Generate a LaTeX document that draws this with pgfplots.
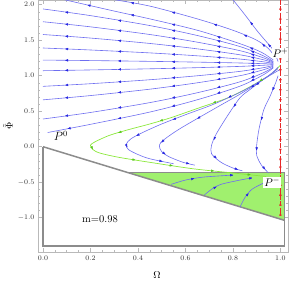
\documentclass[border=0pt]{standalone}
\usepackage{pgfplots}
\pgfplotsset{compat=1.18}
\usetikzlibrary{arrows.meta}
\definecolor{sblue}{RGB}{110,110,240}
\definecolor{ablue}{RGB}{40,40,225}
\definecolor{sgreen}{RGB}{140,232,60}
\definecolor{agreen}{RGB}{90,200,30}
\definecolor{gfill}{RGB}{160,240,110}
\definecolor{sred}{RGB}{232,40,40}
\definecolor{framec}{RGB}{185,185,185}
\definecolor{wall}{RGB}{140,140,140}
\tikzset{
 flow/.style={sblue, line width=0.6pt, smooth},
 gflow/.style={sgreen, line width=0.7pt, smooth},
}
\pgfplotsset{
 arr/.style={#1, -{Latex[length=3.2pt,width=2.6pt]}, quiver={u=\thisrow{u}, v=\thisrow{v}, scale arrows=0.04}},
}
\begin{document}
\begin{tikzpicture}
\begin{axis}[
 scale only axis, width=250pt, height=252pt,
 xmin=-0.021, xmax=1.032, ymin=-1.483, ymax=2.066,
 axis line style={framec, line width=0.8pt},
 tick style={framec, line width=0.5pt},
 major tick length=4pt, minor tick length=2pt,
 tick pos=both, xticklabel pos=lower, yticklabel pos=left,
 xtick={0,0.2,0.4,0.6,0.8,1.0}, minor x tick num=3,
 ytick={-1,-0.5,0,0.5,1,1.5,2}, minor y tick num=4,
 tick label style={font=\fontsize{7}{8}\selectfont, text=black!80},
 xticklabel style={/pgf/number format/.cd, fixed, fixed zerofill, precision=1},
 yticklabel style={/pgf/number format/.cd, fixed, fixed zerofill, precision=1},
 xlabel={$\Omega$}, ylabel={$\tilde{\Phi}$},
 label style={font=\fontsize{10}{12}\selectfont},
 xlabel style={at={(axis description cs:0.476,0)}, anchor=center, yshift=-23pt},
 ylabel style={at={(axis description cs:-0.12,0.5)}, anchor=center},
]
% green region
\addplot[fill=gfill, draw=none] coordinates {(0.353,-0.36) (1.017,-0.36) (1.017,-1.037) (0.353,-0.36)};
% walls
\addplot[wall, line width=1.5pt] coordinates {(0,0) (1.017,-1.037)};
\addplot[wall, line width=1.5pt] coordinates {(0.353,-0.36) (1.017,-0.36) (1.017,-1.40) (0,-1.40) (0,0)};
% top-edge streamlines
\addplot[flow] coordinates {(0.99,1.20) (0.97,1.36) (0.93,1.52) (0.90,1.64) (0.85,1.86) (0.80,2.07)};
\addplot[flow] coordinates {(0.98,1.25) (0.95,1.38) (0.90,1.50) (0.80,1.64) (0.65,1.80) (0.45,1.98) (0.30,2.07)};
\addplot[flow] coordinates {(0.97,1.22) (0.92,1.33) (0.83,1.45) (0.65,1.64) (0.45,1.80) (0.30,1.91) (0.09,2.07)};
% left-edge streamlines
\addplot[flow] coordinates {(0.97,1.199) (0.93,1.277) (0.83,1.41) (0.65,1.566) (0.45,1.706) (0.2,1.846) (0,1.94)};
\addplot[flow] coordinates {(0.97,1.19) (0.93,1.25) (0.83,1.352) (0.65,1.472) (0.45,1.58) (0.2,1.688) (0,1.76)};
\addplot[flow] coordinates {(0.97,1.181) (0.93,1.223) (0.83,1.294) (0.65,1.378) (0.45,1.454) (0.2,1.53) (0,1.58)};
\addplot[flow] coordinates {(0.97,1.172) (0.93,1.195) (0.83,1.234) (0.65,1.28) (0.45,1.321) (0.2,1.362) (0,1.39)};
\addplot[flow] coordinates {(0.97,1.163) (0.93,1.169) (0.83,1.179) (0.65,1.191) (0.45,1.202) (0.2,1.213) (0,1.22)};
\addplot[flow] coordinates {(0.97,1.156) (0.93,1.147) (0.83,1.131) (0.65,1.113) (0.45,1.097) (0.2,1.081) (0,1.07)};
\addplot[flow] coordinates {(0.97,1.145) (0.93,1.114) (0.83,1.061) (0.65,0.999) (0.45,0.943) (0.2,0.887) (0,0.85)};
\addplot[flow] coordinates {(0.97,1.135) (0.93,1.085) (0.83,1.0) (0.65,0.9) (0.45,0.81) (0.2,0.72) (0,0.66)};
\addplot[flow] coordinates {(0.97,1.122) (0.93,1.044) (0.83,0.914) (0.65,0.76) (0.45,0.621) (0.2,0.482) (0,0.39)};
\addplot[flow] coordinates {(0.97,1.112) (0.93,1.016) (0.83,0.853) (0.65,0.661) (0.45,0.488) (0.2,0.315) (0.02,0.20)};
% separatrix
\addplot[gflow] coordinates {(1.0,1.15) (0.96,1.02) (0.87,0.84) (0.78,0.69) (0.66,0.55) (0.54,0.41) (0.45,0.32) (0.36,0.24) (0.28,0.16) (0.22,0.07) (0.20,0.02) (0.21,-0.04) (0.24,-0.09) (0.32,-0.15) (0.45,-0.22) (0.63,-0.31) (0.80,-0.37) (0.94,-0.42)};
% lower streamlines
\addplot[flow] coordinates {(0.99,1.12) (0.95,1.0) (0.85,0.80) (0.72,0.60) (0.60,0.45) (0.50,0.32) (0.42,0.20) (0.37,0.11) (0.35,0.03) (0.36,-0.04) (0.40,-0.11) (0.45,-0.17) (0.55,-0.24)};
\addplot[flow] coordinates {(0.99,1.10) (0.93,0.95) (0.83,0.74) (0.73,0.55) (0.58,0.26) (0.51,0.10) (0.49,0.02) (0.50,-0.07) (0.53,-0.14) (0.59,-0.22) (0.64,-0.26)};
\addplot[flow] coordinates {(0.995,1.08) (0.93,0.95) (0.87,0.80) (0.83,0.69) (0.78,0.45) (0.73,0.18) (0.71,0.02) (0.71,-0.10) (0.75,-0.22) (0.80,-0.30) (0.84,-0.34)};
\addplot[flow] coordinates {(0.99,1.00) (0.98,0.90) (0.955,0.70) (0.93,0.52) (0.91,0.25) (0.90,0.02) (0.90,-0.12) (0.92,-0.26) (0.95,-0.37)};
% inside green region
\addplot[flow] coordinates {(0.54,-0.53) (0.60,-0.47) (0.67,-0.43) (0.75,-0.41) (0.80,-0.40)};
\addplot[flow] coordinates {(0.68,-0.68) (0.71,-0.60) (0.75,-0.53) (0.83,-0.47) (0.88,-0.44)};
\addplot[flow] coordinates {(0.83,-0.85) (0.85,-0.72) (0.88,-0.60) (0.93,-0.51) (0.95,-0.47)};
% blue arrowheads
\addplot[arr=ablue] table {
x y u v
0.88 1.3435 -0.10 0.133
0.74 1.488 -0.18 0.156
0.55 1.636 -0.20 0.14
0.325 1.776 -0.25 0.14
0.10 1.893 -0.20 0.094
0.88 1.301 -0.10 0.102
0.74 1.412 -0.18 0.12
0.55 1.526 -0.20 0.108
0.325 1.634 -0.25 0.108
0.10 1.724 -0.20 0.072
0.88 1.2585 -0.10 0.071
0.74 1.336 -0.18 0.084
0.55 1.416 -0.20 0.076
0.325 1.492 -0.25 0.076
0.10 1.555 -0.20 0.05
0.88 1.2145 -0.10 0.039
0.74 1.257 -0.18 0.046
0.55 1.3005 -0.20 0.041
0.325 1.3415 -0.25 0.041
0.10 1.376 -0.20 0.028
0.88 1.174 -0.10 0.01
0.74 1.185 -0.18 0.012
0.55 1.1965 -0.20 0.011
0.325 1.2075 -0.25 0.011
0.10 1.2165 -0.20 0.007
0.88 1.139 -0.10 -0.016
0.74 1.122 -0.18 -0.018
0.55 1.105 -0.20 -0.016
0.325 1.089 -0.25 -0.016
0.10 1.0755 -0.20 -0.011
0.88 1.0875 -0.10 -0.053
0.74 1.03 -0.18 -0.062
0.55 0.971 -0.20 -0.056
0.325 0.915 -0.25 -0.056
0.10 0.8685 -0.20 -0.037
0.88 1.0425 -0.10 -0.085
0.74 0.95 -0.18 -0.10
0.55 0.855 -0.20 -0.09
0.325 0.765 -0.25 -0.09
0.10 0.69 -0.20 -0.06
0.88 0.979 -0.10 -0.13
0.74 0.837 -0.18 -0.154
0.55 0.6905 -0.20 -0.139
0.325 0.5515 -0.25 -0.139
0.10 0.436 -0.20 -0.092
0.88 0.9345 -0.10 -0.163
0.74 0.757 -0.18 -0.192
0.55 0.5745 -0.20 -0.173
0.325 0.4015 -0.25 -0.173
0.11 0.2575 -0.18 -0.115
0.95 1.44 -0.04 0.16
0.875 1.75 -0.05 0.22
0.925 1.44 -0.05 0.12
0.85 1.57 -0.10 0.14
0.725 1.72 -0.15 0.16
0.55 1.89 -0.20 0.18
0.375 2.025 -0.15 0.09
0.875 1.39 -0.09 0.12
0.74 1.545 -0.18 0.19
0.55 1.72 -0.20 0.16
0.375 1.855 -0.15 0.11
0.195 1.99 -0.21 0.16
0.785 0.70 -0.13 -0.20
0.55 0.385 -0.10 -0.13
0.395 0.155 -0.05 -0.09
0.355 -0.005 0.01 -0.07
0.50 -0.205 0.10 -0.07
0.88 0.845 -0.10 -0.21
0.655 0.405 -0.15 -0.29
0.50 0.06 -0.02 -0.08
0.515 -0.105 0.03 -0.07
0.615 -0.24 0.05 -0.04
0.90 0.875 -0.06 -0.15
0.805 0.57 -0.05 -0.24
0.72 0.10 -0.02 -0.16
0.73 -0.16 0.04 -0.12
0.82 -0.32 0.04 -0.04
0.9675 0.80 -0.025 -0.20
0.92 0.385 -0.02 -0.27
0.90 -0.05 0.0 -0.14
0.935 -0.315 0.03 -0.11
0.635 -0.45 0.07 0.04
0.80 -0.40 0.05 0.01
0.73 -0.565 0.04 0.07
0.88 -0.44 0.05 0.03
0.865 -0.66 0.03 0.12
0.95 -0.47 0.02 0.04
};
% green arrowheads
\addplot[arr=agreen] table {
x y u v
0.915 0.93 -0.09 -0.18
0.72 0.62 -0.12 -0.14
0.495 0.365 -0.09 -0.09
0.32 0.20 -0.08 -0.08
0.21 -0.035 0.01 -0.06
0.385 -0.185 0.13 -0.07
0.54 -0.265 0.18 -0.09
0.715 -0.34 0.17 -0.06
0.87 -0.395 0.14 -0.05
};
% red invariant line
\addplot[sred, line width=0.6pt, dash pattern=on 5pt off 1.5pt] coordinates {(1.0,2.07) (1.0,-0.97)};
\addplot[arr=sred] table {
x y u v
1.0 1.27 0 0.1
1.0 1.41 0 0.1
1.0 1.55 0 0.1
1.0 1.69 0 0.1
1.0 1.83 0 0.1
1.0 1.97 0 0.1
1.0 1.05 0 -0.1
1.0 0.91 0 -0.1
1.0 0.77 0 -0.1
1.0 0.63 0 -0.1
1.0 0.49 0 -0.1
1.0 0.35 0 -0.1
1.0 0.21 0 -0.1
1.0 0.07 0 -0.1
1.0 -0.07 0 -0.1
1.0 -0.21 0 -0.1
1.0 -0.32 0 -0.1
1.0 -0.93 0 0.1
1.0 -0.79 0 0.1
1.0 -0.65 0 0.1
1.0 -0.51 0 0.1
};
% labels
\node[font=\fontsize{12}{14}\selectfont] at (axis cs:0.075,0.15) {$P^0$};
\node[font=\fontsize{11}{13}\selectfont, fill=white, inner sep=0.5pt] at (axis cs:1.0,1.32) {$P^+$};
\node[font=\fontsize{11}{13}\selectfont, fill=white, inner sep=1pt] at (axis cs:0.965,-0.50) {$P^-$};
\node[font=\fontsize{10.5}{12}\selectfont] at (axis cs:0.24,-1.02) {m=0.98};
\end{axis}
\pgfresetboundingbox
\path (-38pt,-31pt) rectangle (253pt,252pt);
\end{tikzpicture}
\end{document}
